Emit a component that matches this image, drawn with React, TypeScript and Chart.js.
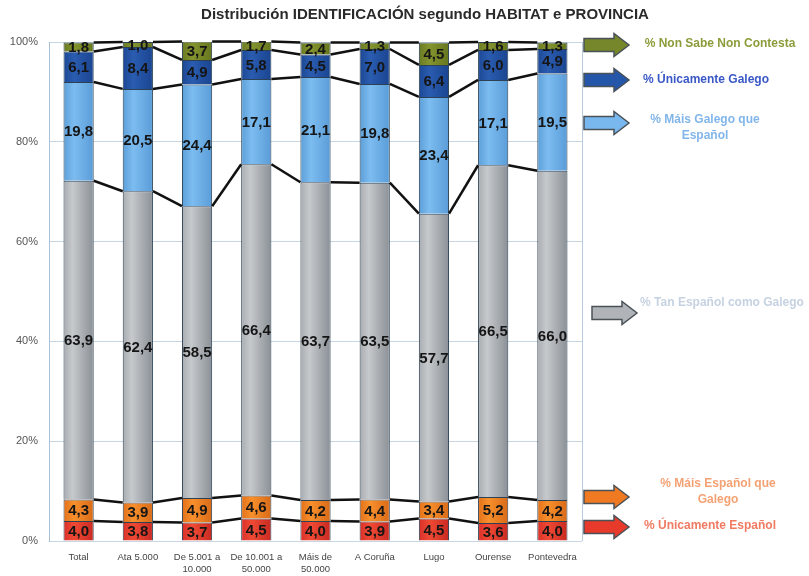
import React, { useEffect, useRef } from "react";
import { Chart, registerables } from "chart.js";

Chart.register(...registerables);

// ---------- DATA ----------
const title = "Distribución IDENTIFICACIÓN segundo HABITAT e PROVINCIA";
const categories: string[][] = [
  ["Total"],
  ["Ata 5.000"],
  ["De 5.001 a", "10.000"],
  ["De 10.001 a", "50.000"],
  ["Máis de", "50.000"],
  ["A Coruña"],
  ["Lugo"],
  ["Ourense"],
  ["Pontevedra"],
];
const unicamenteEspanol = [4.0, 3.8, 3.7, 4.5, 4.0, 3.9, 4.5, 3.6, 4.0];
const maisEspanolQueGalego = [4.3, 3.9, 4.9, 4.6, 4.2, 4.4, 3.4, 5.2, 4.2];
const tanEspanolComoGalego = [63.9, 62.4, 58.5, 66.4, 63.7, 63.5, 57.7, 66.5, 66.0];
const maisGalegoQueEspanol = [19.8, 20.5, 24.4, 17.1, 21.1, 19.8, 23.4, 17.1, 19.5];
const unicamenteGalego = [6.1, 8.4, 4.9, 5.8, 4.5, 7.0, 6.4, 6.0, 4.9];
const nonSabeNonContesta = [1.8, 1.0, 3.7, 1.7, 2.4, 1.3, 4.5, 1.6, 1.3];
const seriesNames = [
  "% Únicamente Español",
  "% Máis Español que Galego",
  "% Tan Español como Galego",
  "% Máis Galego que Español",
  "% Únicamente Galego",
  "% Non Sabe Non Contesta",
];
const seriesValues = [
  unicamenteEspanol,
  maisEspanolQueGalego,
  tanEspanolComoGalego,
  maisGalegoQueEspanol,
  unicamenteGalego,
  nonSabeNonContesta,
];
const yTickValues = [0, 20, 40, 60, 80, 100];

// ---------- STYLES ----------
const FONT = "'Liberation Sans', Arial, sans-serif";
const BAR_PCT = 0.51;
const barStops: [number, string][][] = [
  [[0, "#d8302a"], [0.35, "#f04a34"], [1, "#c82a22"]],
  [[0, "#e2701a"], [0.35, "#f8902c"], [1, "#d86a18"]],
  [[0, "#a8acb0"], [0.3, "#c6c9cc"], [1, "#8a9096"]],
  [[0, "#5c9ed8"], [0.35, "#7cbcf0"], [1, "#5a9cd8"]],
  [[0, "#1c4894"], [0.35, "#2a5cb0"], [1, "#1a4490"]],
  [[0, "#6a7a22"], [0.35, "#84942e"], [1, "#66761e"]],
];
const arrowColors = ["#e83a2a", "#f07a22", "#b0b4b8", "#78b8ee", "#2456aa", "#76862a"];
const legendTextColors = ["#f07a62", "#f4a274", "#c6d2e2", "#82b6ea", "#3a58c6", "#8c9c3a"];
// legend layout (index matches series order, bottom to top)
const legendLayout = [
  { ax: 584, ay: 527, tx: 710, ty: 526 },
  { ax: 584, ay: 497, tx: 718, ty: 484 },
  { ax: 592, ay: 313, tx: 722, ty: 303 },
  { ax: 584, ay: 123, tx: 705, ty: 120 },
  { ax: 584, ay: 80, tx: 706, ty: 80 },
  { ax: 584, ay: 45, tx: 720, ty: 44 },
];
const wrapped = [false, true, false, true, false, false];

function gradientFor(stops: [number, string][]) {
  return (ctx: any) => {
    const chart = ctx.chart;
    const xs = chart.scales && chart.scales.x;
    if (!chart.chartArea || !xs || ctx.dataIndex === undefined) return stops[1][1];
    const cx = xs.getPixelForValue(ctx.dataIndex);
    const w = (xs.width / categories.length) * BAR_PCT;
    const g = chart.ctx.createLinearGradient(cx - w / 2, 0, cx + w / 2, 0);
    stops.forEach(([o, c]) => g.addColorStop(o, c));
    return g;
  };
}

const decorPlugin = {
  id: "decor",
  beforeDatasetsDraw(chart: any) {
    const { ctx, chartArea } = chart;
    ctx.save();
    ctx.strokeStyle = "#b6cade";
    ctx.lineWidth = 1;
    ctx.beginPath();
    ctx.moveTo(chartArea.right + 0.5, chartArea.top);
    ctx.lineTo(chartArea.right + 0.5, chartArea.bottom);
    ctx.stroke();
    ctx.restore();
  },
  afterDatasetsDraw(chart: any) {
    const { ctx } = chart;
    ctx.save();
    // value labels
    ctx.font = `bold 15px ${FONT}`;
    ctx.fillStyle = "#151515";
    ctx.textAlign = "center";
    ctx.textBaseline = "middle";
    chart.data.datasets.forEach((ds: any, di: number) => {
      const meta = chart.getDatasetMeta(di);
      meta.data.forEach((el: any, i: number) => {
        const v = ds.data[i];
        const txt = v.toFixed(1).replace(".", ",");
        ctx.fillText(txt, el.x, (el.y + el.base) / 2 + 1);
      });
    });
    // series lines
    ctx.strokeStyle = "#111";
    ctx.lineWidth = 2.5;
    ctx.lineJoin = "round";
    chart.data.datasets.forEach((_ds: any, di: number) => {
      const meta = chart.getDatasetMeta(di);
      const els = meta.data;
      for (let i = 0; i < els.length - 1; i++) {
        const a = els[i];
        const b = els[i + 1];
        ctx.beginPath();
        ctx.moveTo(a.x + a.width / 2, a.y);
        ctx.lineTo(b.x - b.width / 2, b.y);
        ctx.stroke();
      }
    });
    ctx.restore();
  },
  afterDraw(chart: any) {
    const { ctx } = chart;
    ctx.save();
    // title
    ctx.font = `bold 15px ${FONT}`;
    ctx.fillStyle = "#2a2a2a";
    ctx.textAlign = "center";
    ctx.textBaseline = "middle";
    ctx.fillText(title, 425, 15);
    // legend arrows and texts
    seriesNames.forEach((name, i) => {
      const L = legendLayout[i];
      const x = L.ax;
      const y = L.ay;
      ctx.beginPath();
      ctx.moveTo(x, y - 6.5);
      ctx.lineTo(x + 30, y - 6.5);
      ctx.lineTo(x + 30, y - 11.5);
      ctx.lineTo(x + 45, y);
      ctx.lineTo(x + 30, y + 11.5);
      ctx.lineTo(x + 30, y + 6.5);
      ctx.lineTo(x, y + 6.5);
      ctx.closePath();
      ctx.fillStyle = arrowColors[i];
      ctx.fill();
      ctx.strokeStyle = "#4a5258";
      ctx.lineWidth = 1.5;
      ctx.stroke();

      ctx.font = `bold 12px ${FONT}`;
      ctx.fillStyle = legendTextColors[i];
      ctx.textAlign = "center";
      ctx.textBaseline = "middle";
      if (wrapped[i]) {
        const k = name.lastIndexOf(" ");
        ctx.fillText(name.slice(0, k), L.tx, L.ty);
        ctx.fillText(name.slice(k + 1), L.tx, L.ty + 16);
      } else {
        ctx.fillText(name, L.tx, L.ty);
      }
    });
    ctx.restore();
  },
};

export default function App() {
  const ref = useRef<HTMLCanvasElement>(null);
  useEffect(() => {
    document.body.style.margin = "0";
    const chart = new Chart(ref.current as HTMLCanvasElement, {
      type: "bar",
      data: {
        labels: categories,
        datasets: seriesValues.map((vals, i) => ({
          label: seriesNames[i],
          data: vals,
          backgroundColor: gradientFor(barStops[i]),
          borderColor: "#2c4254",
          borderWidth: 1,
          categoryPercentage: 1,
          barPercentage: BAR_PCT,
        })),
      },
      options: {
        responsive: false,
        animation: false,
        events: [],
        layout: { padding: { top: 42, right: 227, left: 0, bottom: 0 } },
        plugins: {
          legend: { display: false },
          title: { display: false },
          tooltip: { enabled: false },
        },
        scales: {
          x: {
            stacked: true,
            grid: { display: true, drawOnChartArea: false, drawTicks: false, color: "rgba(0,0,0,0)" },
            border: { display: false },
            ticks: {
              autoSkip: false,
              maxRotation: 0,
              padding: 10,
              color: "#444",
              font: { family: FONT, size: 9.5, lineHeight: 1.3 },
            },
            afterFit: (s: any) => {
              s.height = 35;
            },
          },
          y: {
            stacked: true,
            min: 0,
            max: 100,
            afterBuildTicks: (s: any) => {
              s.ticks = yTickValues.map((v) => ({ value: v }));
            },
            grid: { color: "#c8d6e4", drawTicks: false },
            border: { display: true, color: "#a8c0d8" },
            ticks: {
              padding: 11,
              color: "#555",
              font: { family: FONT, size: 11 },
              callback: (v: any) => `${v}%`,
            },
            afterFit: (s: any) => {
              s.width = 49;
            },
          },
        },
      },
      plugins: [decorPlugin],
    });
    return () => chart.destroy();
  }, []);
  return (
    <div style={{ width: 809, height: 576, background: "#fff" }}>
      <canvas ref={ref} width={809} height={576} />
    </div>
  );
}
